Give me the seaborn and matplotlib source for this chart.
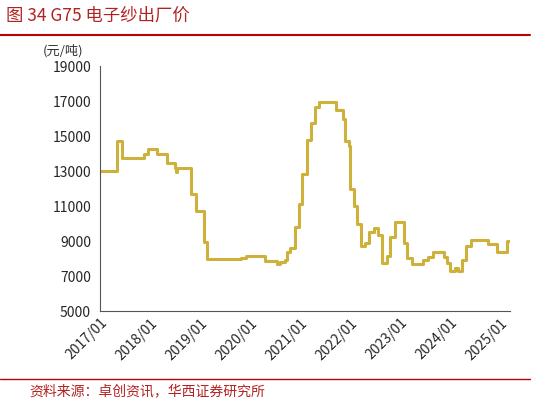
import matplotlib
matplotlib.use("Agg")
import matplotlib.pyplot as plt
import matplotlib.dates as mdates
import seaborn as sns
import pandas as pd

dates = ["2017-01-01","2017-05-01","2017-06-13","2017-11-16","2017-12-18","2018-02-18","2018-05-07",
 "2018-06-28","2018-07-10","2018-07-15","2018-10-24","2018-11-30","2019-01-27","2019-02-21","2019-10-28",
 "2019-12-03","2020-04-20","2020-07-13","2020-08-07","2020-09-08","2020-09-25","2020-10-19","2020-11-20",
 "2020-12-21","2021-01-15","2021-02-18","2021-03-20","2021-04-21","2021-05-19","2021-09-19","2021-11-06",
 "2021-11-23","2021-12-20","2021-12-30","2022-01-26","2022-02-17","2022-03-18","2022-04-19","2022-05-18",
 "2022-06-24","2022-07-18","2022-08-19","2022-09-25","2022-10-19","2022-11-22","2023-01-30","2023-02-16",
 "2023-03-25","2023-06-16","2023-07-22","2023-08-23","2023-11-12","2023-12-03","2023-12-30","2024-02-05",
 "2024-02-22","2024-03-28","2024-04-22","2024-05-28","2024-09-27","2024-12-02","2025-02-16","2025-03-03"]
prices = [13000,14740,13735,13980,14260,13980,13470,13180,12940,13150,11700,10720,8960,7980,8030,
 8150,7860,7670,7820,7920,8350,8580,9780,11110,12850,14780,15740,16630,16970,16480,15970,
 14700,14450,11990,10990,10000,8720,8900,9530,9720,9340,7730,8150,9250,10060,8870,8020,
 7690,7920,8070,8370,8110,7770,7300,7450,7260,7920,8730,9060,8810,8350,9000,9000]
yticks = list(range(5000, 19001, 2000))
xticks = ["2017-01-01","2018-01-01","2019-01-01","2020-01-01","2021-01-01","2022-01-01","2023-01-01","2024-01-01","2025-01-01"]

sns.set_style("white")
plt.rcParams['font.family'] = ['Noto Sans CJK SC', 'DejaVu Sans']
df = pd.DataFrame({"date": pd.to_datetime(dates), "price": prices})

fig = plt.figure(figsize=(5.38, 4.05), dpi=100)
ax = fig.add_axes([0.186, 0.232, 0.762, 0.605])
sns.lineplot(data=df, x="date", y="price", ax=ax, color="#CDB13A", linewidth=2.2, drawstyle="steps-post")
ax.set_ylim(5000, 19000)
ax.set_yticks(yticks)
ax.set_xlim(pd.Timestamp("2017-01-01"), pd.Timestamp("2025-03-10"))
ax.set_xticks(pd.to_datetime(xticks))
ax.xaxis.set_major_formatter(mdates.DateFormatter("%Y/%m"))
ax.tick_params(axis="both", labelsize=10, length=3, direction="out", color="#555555")
ax.tick_params(axis="x", length=0)
plt.setp(ax.get_xticklabels(), rotation=45, ha="right", rotation_mode="anchor")
ax.set_xlabel(""); ax.set_ylabel("")
for s in ["top", "right"]:
    ax.spines[s].set_visible(False)
for s in ["left", "bottom"]:
    ax.spines[s].set_color("#555555")
    ax.spines[s].set_linewidth(0.8)

fig.text(0.012, 0.962, "图 34 G75 电子纱出厂价", fontsize=12.5, color="#B22222", va="center", ha="left")
fig.add_artist(plt.Line2D([0.0, 0.985], [0.913, 0.913], color="#C00000", linewidth=1.5))
fig.text(0.08, 0.875, "(元/吨)", fontsize=9.5, color="#333333", va="center")
fig.add_artist(plt.Line2D([0.0, 0.985], [0.065, 0.065], color="#C00000", linewidth=1.0))
fig.text(0.055, 0.035, "资料来源：卓创资讯，华西证券研究所", fontsize=10, color="#B22222", va="center")
fig.savefig("out.png", dpi=100)
